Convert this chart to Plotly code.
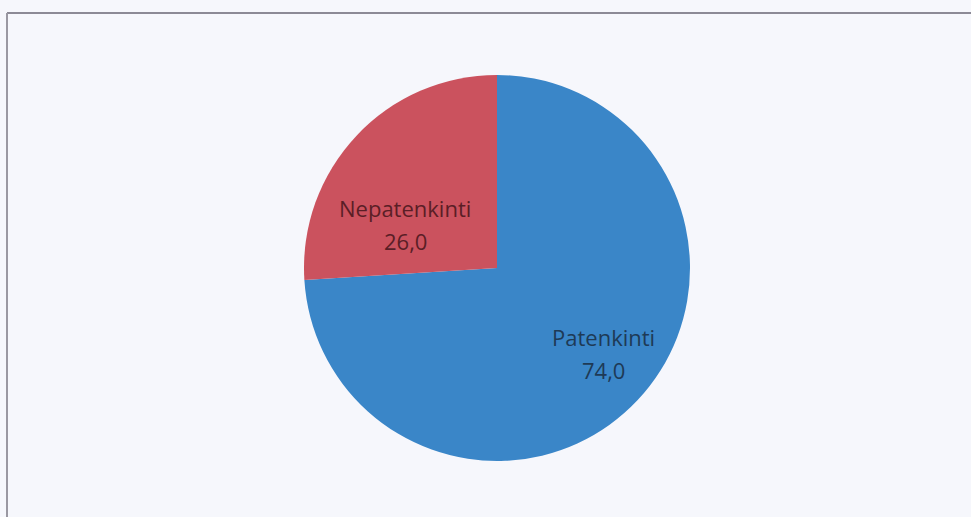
import plotly.graph_objects as go

labels = ["Patenkinti", "Nepatenkinti"]
values = [74.0, 26.0]
colors = ["#3a86c8", "#cb525e"]
text_colors = ["#1e3a56", "#5a1e26"]

W, H = 971, 517
cx, cy, r = 497, 268, 193
# label anchor positions (pixels) for each slice, as placed in the reference
label_pos = [(603, 337), (405, 208)]
line_gap = 33

fig = go.Figure(go.Pie(
    labels=labels,
    values=values,
    sort=False,
    direction="clockwise",
    rotation=0,
    marker=dict(colors=colors, line=dict(width=0)),
    textinfo="none",
    hoverinfo="label+value",
    showlegend=False,
    domain=dict(x=[(cx - r) / W, (cx + r) / W], y=[1 - (cy + r) / H, 1 - (cy - r) / H]),
))

annotations = []
for lab, val, (px, py), tc in zip(labels, values, label_pos, text_colors):
    for i, txt in enumerate([lab, f"{val:.1f}".replace(".", ",")]):
        annotations.append(dict(
            x=px / W, y=1 - (py + i * line_gap) / H, xref="paper", yref="paper",
            text=txt, showarrow=False, xanchor="center", yanchor="middle",
            font=dict(family="Open Sans", size=22, color=tc),
        ))

fig.update_layout(
    width=W, height=H,
    margin=dict(l=0, r=0, t=0, b=0),
    paper_bgcolor="#f6f7fc",
    plot_bgcolor="#f6f7fc",
    separators=", ",
    annotations=annotations,
    shapes=[
        dict(type="line", xref="paper", yref="paper", x0=7 / W, x1=1, y0=1 - 13 / H, y1=1 - 13 / H,
             line=dict(color="#8c8a96", width=2)),
        dict(type="line", xref="paper", yref="paper", x0=7 / W, x1=7 / W, y0=0, y1=1 - 13 / H,
             line=dict(color="#9a98a2", width=2)),
    ],
)

fig.write_html(
    "out.html",
    config={"displayModeBar": False},
    post_script="document.body.style.margin='0';document.body.style.background='#f6f7fc';",
)
